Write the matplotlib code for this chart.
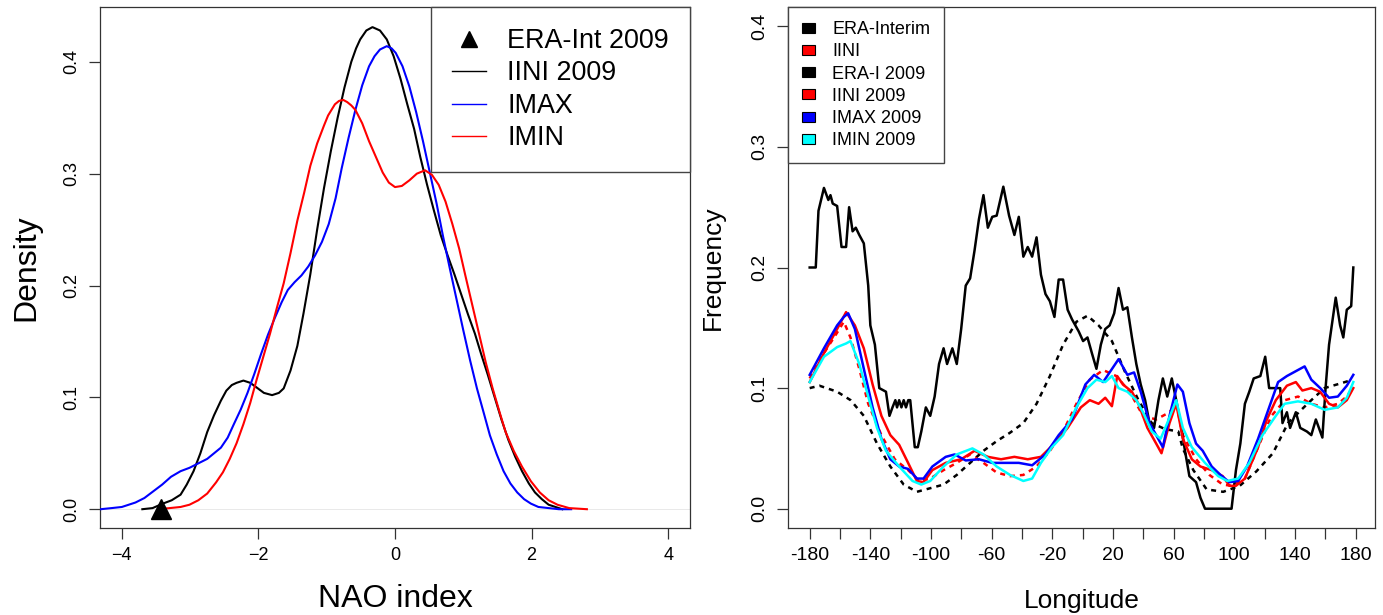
import matplotlib
matplotlib.use("Agg")
import matplotlib.pyplot as plt
from matplotlib.lines import Line2D
from matplotlib.patches import Patch

plt.rcParams['font.family'] = ['Liberation Sans', 'DejaVu Sans']

# ---------------- Left panel: NAO index densities ----------------
iini_x = [-3.70, -3.55, -3.40, -3.27, -3.14, -3.05, -2.95, -2.85, -2.75, -2.65, -2.55, -2.47,
          -2.39, -2.32, -2.22, -2.12, -2.03, -1.92, -1.80, -1.70, -1.63, -1.53, -1.43, -1.34,
          -1.24, -1.14, -1.04, -0.94, -0.84, -0.74, -0.64, -0.57, -0.51, -0.42, -0.33, -0.22,
          -0.12, -0.02, 0.08, 0.18, 0.28, 0.37, 0.47, 0.57, 0.67, 0.77, 0.87, 0.97, 1.07,
          1.17, 1.26, 1.36, 1.46, 1.56, 1.66, 1.76, 1.86, 1.96, 2.05, 2.15, 2.25, 2.35, 2.45]
iini_y = [0.000, 0.001, 0.005, 0.008, 0.013, 0.022, 0.034, 0.050, 0.069, 0.084, 0.097, 0.106,
          0.111, 0.113, 0.115, 0.113, 0.109, 0.104, 0.102, 0.104, 0.108, 0.124, 0.146, 0.175,
          0.210, 0.250, 0.287, 0.320, 0.350, 0.377, 0.400, 0.412, 0.420, 0.428, 0.431, 0.428,
          0.420, 0.405, 0.385, 0.362, 0.340, 0.315, 0.290, 0.267, 0.245, 0.227, 0.210, 0.192,
          0.174, 0.157, 0.139, 0.120, 0.100, 0.080, 0.062, 0.047, 0.034, 0.023, 0.015, 0.009,
          0.004, 0.002, 0.000]

imax_x = [-4.31, -4.15, -4.00, -3.80, -3.67, -3.54, -3.41, -3.28, -3.14, -3.01, -2.88, -2.75,
          -2.65, -2.55, -2.45, -2.36, -2.26, -2.16, -2.06, -1.96, -1.86, -1.76, -1.66, -1.57,
          -1.47, -1.37, -1.27, -1.17, -1.07, -0.97, -0.87, -0.78, -0.68, -0.58, -0.48, -0.38,
          -0.30, -0.22, -0.12, -0.05, 0.01, 0.11, 0.21, 0.31, 0.41, 0.51, 0.61, 0.70, 0.80,
          0.90, 1.00, 1.10, 1.20, 1.30, 1.39, 1.49, 1.59, 1.69, 1.79, 1.89, 1.99, 2.10, 2.25,
          2.40, 2.58]
imax_y = [0.000, 0.001, 0.002, 0.006, 0.010, 0.016, 0.022, 0.029, 0.034, 0.037, 0.041, 0.045,
          0.050, 0.055, 0.064, 0.076, 0.089, 0.104, 0.121, 0.139, 0.156, 0.171, 0.185, 0.196,
          0.203, 0.209, 0.217, 0.227, 0.239, 0.255, 0.278, 0.305, 0.332, 0.357, 0.379, 0.396,
          0.405, 0.411, 0.414, 0.412, 0.408, 0.396, 0.378, 0.355, 0.329, 0.301, 0.273, 0.245,
          0.216, 0.188, 0.160, 0.133, 0.108, 0.086, 0.066, 0.049, 0.034, 0.023, 0.015, 0.009,
          0.005, 0.002, 0.001, 0.000, 0.000]

imin_x = [-3.47, -3.30, -3.14, -3.01, -2.88, -2.75, -2.62, -2.52, -2.42, -2.32, -2.22, -2.12,
          -2.03, -1.93, -1.83, -1.73, -1.63, -1.53, -1.43, -1.33, -1.24, -1.14, -1.04, -0.98,
          -0.88, -0.82, -0.76, -0.70, -0.64, -0.58, -0.48, -0.38, -0.28, -0.18, -0.09, 0.00,
          0.10, 0.21, 0.32, 0.44, 0.54, 0.64, 0.74, 0.84, 0.94, 1.03, 1.13, 1.23, 1.33, 1.43,
          1.53, 1.62, 1.74, 1.86, 1.99, 2.12, 2.25, 2.38, 2.55, 2.81]
imin_y = [0.000, 0.001, 0.002, 0.004, 0.008, 0.014, 0.024, 0.033, 0.045, 0.059, 0.076, 0.095,
          0.115, 0.136, 0.157, 0.180, 0.202, 0.229, 0.258, 0.283, 0.307, 0.327, 0.343, 0.352,
          0.362, 0.365, 0.366, 0.364, 0.361, 0.357, 0.345, 0.329, 0.315, 0.301, 0.292, 0.288,
          0.289, 0.294, 0.300, 0.303, 0.299, 0.290, 0.275, 0.255, 0.233, 0.209, 0.183, 0.157,
          0.131, 0.108, 0.087, 0.069, 0.052, 0.038, 0.025, 0.015, 0.008, 0.004, 0.001, 0.000]

era_2009_nao = -3.42

# ---------------- Right panel: blocking frequency vs longitude ----------------
era_clim_lon = [-180, -173.6, -161.9, -153, -144.3, -135.6, -126.8, -118, -109.3, -100.5, -91.7,
                -83, -74.2, -65.4, -56.7, -47.9, -39.1, -30.4, -21.6, -12.9, -4.1, 3.2, 10.5,
                19.3, 28.1, 36.8, 45.6, 54.4, 63.1, 66, 73, 81.8, 92.7, 103.6, 114.6, 125.5,
                135.4, 144.2, 150.8, 159.5, 170.4, 178]
era_clim_freq = [0.100, 0.102, 0.097, 0.090, 0.077, 0.054, 0.035, 0.020, 0.014, 0.017, 0.020,
                 0.028, 0.038, 0.048, 0.056, 0.063, 0.071, 0.087, 0.110, 0.136, 0.155, 0.160, 0.152,
                 0.139, 0.113, 0.090, 0.071, 0.066, 0.064, 0.050, 0.032, 0.016, 0.014, 0.019, 0.031, 0.046,
                 0.071, 0.082, 0.090, 0.100, 0.104, 0.107]

iini_clim_lon = [-180, -170.6, -161.9, -157.5, -153.1, -147.3, -141.4, -132.7, -123.9, -115.1,
                 -107.8, -100.5, -91.7, -83, -74.2, -65.4, -56.7, -47.9, -39.1, -30.4, -21.6,
                 -12.9, -4.1, 4.7, 13.5, 22.2, 31, 39.8, 48.5, 57.3, 61.7, 66.1, 74.8, 83.6, 92.4,
                 98.2, 107, 115.7, 124.5, 133.4, 142.1, 150.8, 159.6, 168.3, 174.2, 178]
iini_clim_freq = [0.108, 0.129, 0.146, 0.155, 0.142, 0.116, 0.087, 0.061, 0.041, 0.032,
                  0.023, 0.025, 0.032, 0.038, 0.045, 0.038, 0.030, 0.027, 0.028, 0.035, 0.048,
                  0.064, 0.087, 0.107, 0.115, 0.110, 0.097, 0.077, 0.074, 0.080, 0.087, 0.061, 0.041, 0.028, 0.020,
                  0.019, 0.025, 0.051, 0.077, 0.090, 0.093, 0.087, 0.084, 0.087, 0.093, 0.100]

era09_lon = [-180, -176, -174.2, -170.6, -167.7, -166.3, -164.8, -161.9, -159, -156, -154, -151.7,
             -149.6, -147.3, -144.3, -141.4, -140, -137, -134.1, -129.7, -127.4, -125.4, -123.5,
             -122.4, -121, -119.5, -118, -116.5, -115, -113.7, -110.7, -108.7, -106.4, -103.4,
             -100.5, -97.6, -94.7, -91.7, -89.4, -85.9, -83, -80.1, -77.1, -74.2, -71.3, -68.4,
             -65.4, -62.5, -59.6, -56.7, -52.3, -48.5, -45, -42.1, -39.1, -36.2, -33.3, -30.4,
             -27.5, -24.5, -21.6, -18.6, -15.8, -12.9, -9.9, -7, -2.6, 0.3, 3.2, 6.1, 9.1, 12,
             14.9, 17.8, 20.8, 23.7, 26.6, 29.5, 32.5, 35.4, 38.3, 41.2, 44.1, 47.1, 50, 52.9,
             55.8, 58.8, 61.7, 64.6, 67.5, 70.4, 74.8, 77.7, 80.7, 98.2, 101.1, 104, 107, 109.9,
             112.8, 117.2, 120.4, 123, 130.3, 131.8, 134.7, 136.8, 140.6, 143.5, 147.9, 150.8,
             153.8, 158.1, 160.2, 162.5, 166.9, 169.8, 171.9, 174.2, 177.1, 178.5]
era09_freq = [0.200, 0.200, 0.247, 0.266, 0.256, 0.260, 0.253, 0.251, 0.217, 0.217, 0.250, 0.230,
              0.233, 0.227, 0.220, 0.185, 0.152, 0.136, 0.100, 0.097, 0.077, 0.084, 0.090,
              0.084, 0.090, 0.084, 0.090, 0.084, 0.090, 0.090, 0.051, 0.051, 0.064, 0.084,
              0.077, 0.093, 0.120, 0.133, 0.120, 0.133, 0.120, 0.149, 0.185, 0.191, 0.214, 0.240,
              0.260, 0.233, 0.242, 0.243, 0.267, 0.243, 0.227, 0.242, 0.209, 0.217, 0.209, 0.225,
              0.194, 0.178, 0.172, 0.159, 0.190, 0.190, 0.165, 0.157, 0.147, 0.139, 0.142, 0.129,
              0.116, 0.136, 0.149, 0.152, 0.162, 0.183, 0.165, 0.167, 0.142, 0.120, 0.103, 0.090,
              0.071, 0.067, 0.090, 0.108, 0.093, 0.108, 0.090, 0.071, 0.048, 0.027, 0.022, 0.009,
              0.000, 0.000, 0.032, 0.054, 0.087, 0.097, 0.108, 0.110, 0.126, 0.100, 0.100, 0.071,
              0.080, 0.067, 0.080, 0.067, 0.064, 0.061, 0.074, 0.059, 0.100, 0.136, 0.175, 0.152,
              0.142, 0.165, 0.168, 0.200]

iini09_lon = [-180, -170.6, -161.9, -156, -150.2, -144.3, -138.5, -132.7, -126.8, -121, -115.1,
              -109.3, -104.9, -99.1, -90.3, -80.1, -71.3, -62.5, -53.8, -45, -36.2, -27.5, -18.7,
              -9.9, -1.2, 4.7, 10.5, 14.9, 19.3, 22.8, 26.6, 32.5, 36.8, 42.7, 48.5, 52, 57.3,
              61.7, 66.1, 72, 77.7, 85.1, 92.4, 96.8, 101.1, 107, 115.7, 121.5, 127.4, 134.7,
              140.6, 144.9, 150.8, 156.6, 162.5, 168.3, 174.2, 178.5]
iini09_freq = [0.105, 0.129, 0.149, 0.163, 0.152, 0.133, 0.103, 0.077, 0.061, 0.053, 0.038,
               0.023, 0.022, 0.032, 0.038, 0.041, 0.048, 0.043, 0.041, 0.043, 0.041, 0.043, 0.054,
               0.067, 0.084, 0.090, 0.087, 0.092, 0.085, 0.110, 0.103, 0.097, 0.087, 0.067, 0.054,
               0.046, 0.071, 0.087, 0.058, 0.041, 0.035, 0.032, 0.027, 0.019, 0.019, 0.025, 0.051,
               0.074, 0.090, 0.102, 0.105, 0.098, 0.100, 0.097, 0.087, 0.084, 0.090, 0.100]

imax09_lon = [-180, -170.6, -161.9, -157.5, -154.6, -150.2, -144.3, -138.5, -132.7, -126.8, -121,
              -115.1, -109.3, -104.9, -99.1, -90.3, -84.4, -77.1, -68.4, -59.6, -50.8, -42.1,
              -33.3, -24.5, -15.8, -7, 1.8, 7.6, 13.5, 17.8, 23.7, 29.5, 33.9, 38.3, 44.1, 48.5,
              52.9, 57.3, 62.5, 66.1, 70.4, 74.8, 79.2, 85.1, 90.9, 96.7, 102.6, 108.4, 115.7,
              123, 128.9, 134.7, 142, 146.4, 150.8, 156.7, 162.5, 168.3, 174.2, 178.5]
imax09_freq = [0.111, 0.133, 0.152, 0.159, 0.162, 0.149, 0.116, 0.084, 0.058, 0.041, 0.035,
               0.033, 0.025, 0.025, 0.035, 0.043, 0.045, 0.040, 0.041, 0.038, 0.038, 0.038,
               0.036, 0.045, 0.061, 0.074, 0.103, 0.111, 0.105, 0.113, 0.124, 0.111, 0.113, 0.097,
               0.071, 0.061, 0.051, 0.077, 0.103, 0.097, 0.071, 0.054, 0.048, 0.035, 0.028, 0.022,
               0.023, 0.035, 0.058, 0.084, 0.105, 0.110, 0.115, 0.118, 0.107, 0.100, 0.092, 0.093,
               0.102, 0.111]

imin09_lon = [-180, -170.6, -161.9, -156, -153.1, -147.3, -141.4, -135.6, -129.7, -121, -112.2,
              -106.4, -100.5, -91.7, -83, -72.7, -65.4, -56.7, -47.9, -39.1, -33.3, -27.5, -20.2,
              -12.9, -4.1, 3.2, 9.1, 14.9, 19.3, 23.7, 29.5, 35.4, 39.8, 45.6, 51.4, 55.8, 61.7,
              66.1, 72, 80.7, 89.4, 95.3, 102.6, 109.9, 118.6, 127.4, 133.2, 142, 150.8, 159.6,
              168.3, 174.2, 178.5]
imin09_freq = [0.105, 0.126, 0.134, 0.137, 0.139, 0.120, 0.093, 0.067, 0.048, 0.035, 0.023,
               0.020, 0.023, 0.035, 0.045, 0.050, 0.045, 0.035, 0.028, 0.023, 0.025, 0.038, 0.051,
               0.061, 0.084, 0.100, 0.107, 0.105, 0.110, 0.100, 0.097, 0.090, 0.080, 0.064, 0.058,
               0.071, 0.090, 0.067, 0.051, 0.038, 0.027, 0.023, 0.025, 0.038, 0.061, 0.077, 0.087,
               0.089, 0.087, 0.082, 0.084, 0.092, 0.105]

left_labels = ['ERA-Int 2009', 'IINI 2009', 'IMAX', 'IMIN']
right_labels = ['ERA-Interim', 'IINI', 'ERA-I 2009', 'IINI 2009', 'IMAX 2009', 'IMIN 2009']
right_colors = ['black', 'red', 'black', 'red', 'blue', 'cyan']
lon_ticks = list(range(-180, 181, 20))

W, H = 1383, 615
fig = plt.figure(figsize=(W / 100, H / 100), dpi=100)
ax1 = fig.add_axes([100 / W, 1 - 528 / H, 590 / W, 521 / H])
ax2 = fig.add_axes([788 / W, 1 - 528 / H, 587 / W, 521 / H])

# ---- left ----
ax1.axhline(0, color='#d9d9d9', lw=0.4, zorder=1)
ax1.plot(iini_x, iini_y, color='black', lw=1.5, zorder=3)
ax1.plot(imax_x, imax_y, color='blue', lw=1.5, zorder=3)
ax1.plot(imin_x, imin_y, color='red', lw=1.5, zorder=3)
ax1.plot([era_2009_nao], [0], marker='^', color='black', ms=14, ls='none', zorder=4, clip_on=False)
ax1.set_xlim(-4.32, 4.32)
ax1.set_ylim(-0.0168, 0.449)
ax1.set_xticks([-4, -2, 0, 2, 4])
ax1.set_yticks([0.0, 0.1, 0.2, 0.3, 0.4])
ax1.set_yticklabels(['0.0', '0.1', '0.2', '0.3', '0.4'])
ax1.set_xlabel('NAO index', fontsize=23)
ax1.set_ylabel('Density', fontsize=23)
h1 = [Line2D([], [], marker='^', color='black', ms=11, ls='none'),
      Line2D([], [], color='black', lw=1.0),
      Line2D([], [], color='blue', lw=1.0),
      Line2D([], [], color='red', lw=1.0)]
leg1 = ax1.legend(h1, left_labels, loc='upper right', bbox_to_anchor=(1, 1), borderaxespad=0,
                  fontsize=19.4, fancybox=False, edgecolor='#444444', framealpha=1,
                  handlelength=1.25, handletextpad=0.8, borderpad=0.78, labelspacing=0.24)
leg1.get_frame().set_linewidth(1.0)

# ---- right ----
ax2.plot(era_clim_lon, era_clim_freq, color='black', lw=1.8, ls=(0, (2, 2)), zorder=2)
ax2.plot(iini_clim_lon, iini_clim_freq, color='red', lw=1.8, ls=(0, (2, 2)), zorder=2)
ax2.plot(era09_lon, era09_freq, color='black', lw=1.8, zorder=3)
ax2.plot(iini09_lon, iini09_freq, color='red', lw=1.8, zorder=3)
ax2.plot(imax09_lon, imax09_freq, color='blue', lw=1.8, zorder=3)
ax2.plot(imin09_lon, imin09_freq, color='cyan', lw=1.8, zorder=3)
ax2.set_xlim(-194.3, 192.8)
ax2.set_ylim(-0.016, 0.416)
ax2.set_xticks(lon_ticks)
ax2.set_xticklabels([str(t) if (t + 180) % 40 == 0 else '' for t in lon_ticks])
ax2.set_yticks([0.0, 0.1, 0.2, 0.3, 0.4])
ax2.set_yticklabels(['0.0', '0.1', '0.2', '0.3', '0.4'])
ax2.set_xlabel('Longitude', fontsize=19)
ax2.set_ylabel('Frequency', fontsize=19)
h2 = [Patch(facecolor=c, edgecolor='black', lw=0.8) for c in right_colors]
leg2 = ax2.legend(h2, right_labels, loc='upper left', bbox_to_anchor=(0, 1), borderaxespad=0,
                  fontsize=13, fancybox=False, edgecolor='#444444', framealpha=1,
                  handlelength=0.7, handleheight=0.46, handletextpad=0.98, borderpad=0.78,
                  labelspacing=0.29)
leg2.get_frame().set_linewidth(1.0)

for ax, fs in ((ax1, 13), (ax2, 14)):
    for s in ax.spines.values():
        s.set_linewidth(0.9)
        s.set_color('#333333')
    ax.tick_params(axis='both', direction='out', length=8, width=0.9, color='#333333',
                   labelsize=fs, pad=6)
    ax.tick_params(axis='y', labelrotation=90)
    for lab in ax.get_yticklabels():
        lab.set_va('center')

ax1.xaxis.set_label_coords(0.5, -0.151)
ax1.xaxis.label.set_va('baseline')
ax1.yaxis.set_label_coords(-0.112, 0.5)
ax1.yaxis.label.set_va('baseline')
ax2.xaxis.set_label_coords(0.5, -0.154)
ax2.xaxis.label.set_va('baseline')
ax2.yaxis.set_label_coords(-0.116, 0.5)
ax2.yaxis.label.set_va('baseline')

fig.savefig('out.png', dpi=100)
